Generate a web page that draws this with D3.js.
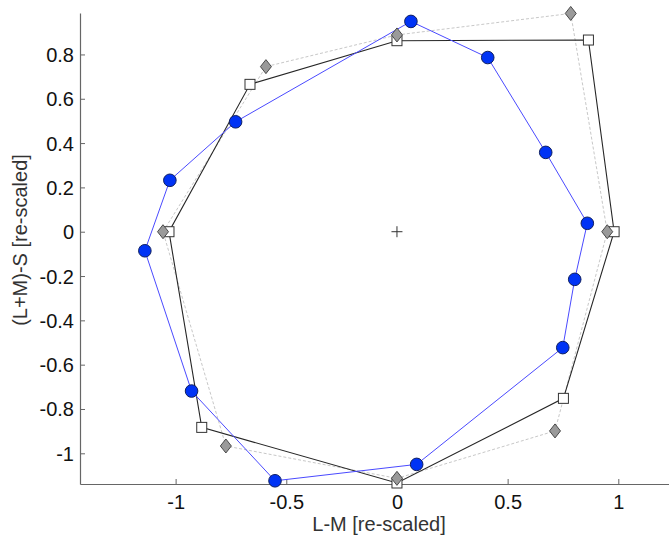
<!DOCTYPE html>
<html>
<head>
<meta charset="utf-8">
<script src="https://cdn.jsdelivr.net/npm/d3@7"></script>
<style>
  html, body { margin: 0; padding: 0; background: #fff; }
  svg { display: block; font-family: "Liberation Sans", Arial, sans-serif; }
</style>
</head>
<body>
<svg id="chart" width="669" height="537"></svg>
<script>
// Isoluminant stimulus contours in the cone-opponent plane
const blueX = [0.063, 0.410, 0.672, 0.860, 0.803, 0.749, 0.089, -0.551, -0.928, -1.139, -1.026, -0.729];
const blueY = [0.949, 0.786, 0.358, 0.038, -0.215, -0.523, -1.050, -1.124, -0.719, -0.086, 0.232, 0.496];

const squareX = [0, 0.865, 0.981, 0.752, 0, -0.882, -1.030, -0.664];
const squareY = [0.862, 0.865, 0, -0.752, -1.134, -0.883, 0, 0.665];

const diamondX = [0, 0.785, 0.950, 0.714, 0, -0.773, -1.057, -0.592];
const diamondY = [0.888, 0.985, 0, -0.899, -1.113, -0.967, 0, 0.745];

const xTicks = [-1, -0.5, 0, 0.5, 1];
const yTicks = [-1, -0.8, -0.6, -0.4, -0.2, 0, 0.2, 0.4, 0.6, 0.8];

const xLabel = "L-M [re-scaled]";
const yLabel = "(L+M)-S [re-scaled]";

const svg = d3.select("#chart");
const plotLeft = 80, plotRight = 669, plotTop = 13, plotBottom = 484;

const x = d3.scaleLinear().domain([-1.432, 1.229]).range([plotLeft, plotRight]);
const y = d3.scaleLinear().domain([-1.1385, 0.987]).range([plotBottom, plotTop]);

const fmt = d => String(d).replace("\u2212", "-");
const fontSize = 20;

// axes (ticks pointing inward)
const axisColor = "#666";
const gx = svg.append("g").attr("transform", `translate(0,${plotBottom})`)
  .call(d3.axisTop(x).tickValues(xTicks).tickSize(5).tickFormat(fmt).tickSizeOuter(0));
gx.select(".domain").attr("stroke", axisColor).attr("stroke-width", 1.2);
gx.selectAll(".tick line").attr("stroke", axisColor);
gx.selectAll(".tick text").attr("y", 25).attr("dy", 0)
  .attr("font-size", fontSize).attr("fill", "#111")
  .attr("font-family", "'Liberation Sans', Arial, sans-serif");

const gy = svg.append("g").attr("transform", `translate(${plotLeft},0)`)
  .call(d3.axisRight(y).tickValues(yTicks).tickSize(5).tickFormat(fmt).tickSizeOuter(0));
gy.select(".domain").attr("stroke", axisColor).attr("stroke-width", 1.2);
gy.selectAll(".tick line").attr("stroke", axisColor);
gy.selectAll(".tick text").attr("x", -6).attr("text-anchor", "end").attr("dy", "0.35em")
  .attr("font-size", fontSize).attr("fill", "#111")
  .attr("font-family", "'Liberation Sans', Arial, sans-serif");

svg.append("text").attr("x", 379).attr("y", 531).attr("text-anchor", "middle")
  .attr("font-size", fontSize).attr("fill", "#333").text(xLabel);
svg.append("text").attr("transform", "translate(27,240) rotate(-90)")
  .attr("text-anchor", "middle").attr("font-size", fontSize).attr("fill", "#333").text(yLabel);

const line = d3.line().x(d => x(d[0])).y(d => y(d[1])).curve(d3.curveLinearClosed);
const zip = (a, b) => a.map((v, i) => [v, b[i]]);

const sq = zip(squareX, squareY);
const dm = zip(diamondX, diamondY);
const bl = zip(blueX, blueY);

// contour outlines
svg.append("path").attr("d", line(dm)).attr("fill", "none")
  .attr("stroke", "#c8c8c8").attr("stroke-width", 1).attr("stroke-dasharray", "3,2");
svg.append("path").attr("d", line(sq)).attr("fill", "none")
  .attr("stroke", "#262626").attr("stroke-width", 1.1);
svg.append("path").attr("d", line(bl)).attr("fill", "none")
  .attr("stroke", "#4a4aff").attr("stroke-width", 1);

// centre marker
const cx = x(0), cy = y(0);
svg.append("path").attr("d", `M${cx - 5.5},${cy}H${cx + 5.5}M${cx},${cy - 5.5}V${cy + 5.5}`)
  .attr("stroke", "#333").attr("stroke-width", 1);

// markers
svg.selectAll("rect.sq").data(sq).join("rect").attr("class", "sq")
  .attr("x", d => x(d[0]) - 5).attr("y", d => y(d[1]) - 5)
  .attr("width", 10).attr("height", 10)
  .attr("fill", "#fff").attr("stroke", "#333").attr("stroke-width", 1);

svg.selectAll("path.dm").data(dm).join("path").attr("class", "dm")
  .attr("d", d => {
    const px = x(d[0]), py = y(d[1]);
    return `M${px},${py - 7}L${px + 5.5},${py}L${px},${py + 7}L${px - 5.5},${py}Z`;
  })
  .attr("fill", "#9a9a9a").attr("stroke", "#4a4a4a").attr("stroke-width", 1);

svg.selectAll("circle.bl").data(bl).join("circle").attr("class", "bl")
  .attr("cx", d => x(d[0])).attr("cy", d => y(d[1])).attr("r", 6.3)
  .attr("fill", "#0033f5").attr("stroke", "#102060").attr("stroke-width", 1);
</script>
</body>
</html>
